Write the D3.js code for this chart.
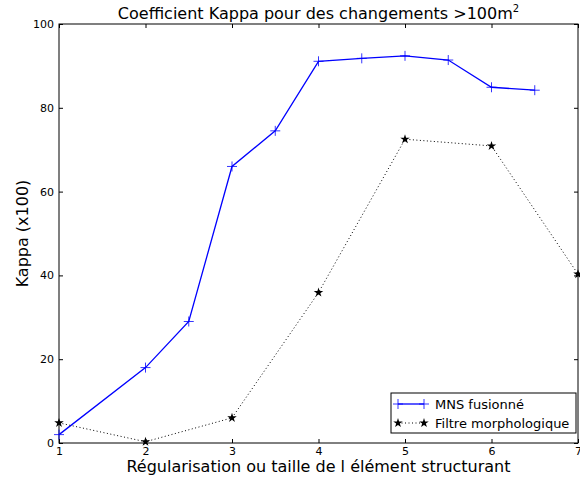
<!DOCTYPE html>
<html>
<head>
<meta charset="utf-8">
<script src="https://cdn.jsdelivr.net/npm/d3@7"></script>
<style>
  html, body { margin: 0; padding: 0; background: #fff; }
  svg { display: block; font-family: "DejaVu Sans", sans-serif; }
</style>
</head>
<body>
<svg id="chart" width="580" height="480"></svg>
<script>
// Kappa coefficient (x100) by regularisation / structuring element size
const mnsX = [1, 2, 2.5, 3, 3.5, 4, 4.5, 5, 5.5, 6, 6.5];
const mnsY = [2, 18, 29, 66, 74.5, 91.1, 91.8, 92.4, 91.4, 84.9, 84.2];
const morphoX = [1, 2, 3, 4, 5, 6, 7];
const morphoY = [4.8, 0.3, 6.0, 35.9, 72.5, 70.9, 40.3];
const xTicks = [1, 2, 3, 4, 5, 6, 7];
const yTicks = [0, 20, 40, 60, 80, 100];
const seriesNames = ["MNS fusionné", "Filtre morphologique"];

const svg = d3.select("#chart");
const m = { left: 59, right: 2, top: 24, bottom: 37 };
const W = 580, H = 480;

const x = d3.scaleLinear().domain([1, 7]).range([m.left, W - m.right]);
const y = d3.scaleLinear().domain([0, 100]).range([H - m.bottom, m.top]);

const pw = x(7) - x(1), ph = y(0) - y(100);

// frame
svg.append("rect")
  .attr("x", x(1)).attr("y", y(100))
  .attr("width", pw).attr("height", ph)
  .attr("fill", "none").attr("stroke", "#000").attr("stroke-width", 1);

// axes with inward ticks on all sides
const tickLen = 4;
const gx = svg.append("g").attr("transform", `translate(0,${y(0)})`)
  .call(d3.axisBottom(x).tickValues(xTicks).tickFormat(d3.format("d"))
    .tickSizeInner(-tickLen).tickSizeOuter(0).tickPadding(4));
const gxTop = svg.append("g").attr("transform", `translate(0,${y(100)})`)
  .call(d3.axisTop(x).tickValues(xTicks).tickFormat("")
    .tickSizeInner(-tickLen).tickSizeOuter(0));
const gy = svg.append("g").attr("transform", `translate(${x(1)},0)`)
  .call(d3.axisLeft(y).tickValues(yTicks).tickFormat(d3.format("d"))
    .tickSizeInner(-tickLen).tickSizeOuter(0).tickPadding(5));
const gyR = svg.append("g").attr("transform", `translate(${x(7)},0)`)
  .call(d3.axisRight(y).tickValues(yTicks).tickFormat("")
    .tickSizeInner(-tickLen).tickSizeOuter(0));

[gx, gxTop, gy, gyR].forEach(g => {
  g.select(".domain").remove();
  g.selectAll("line").attr("stroke", "#000");
  g.selectAll("text").attr("font-size", 11).attr("fill", "#000")
    .attr("font-family", "DejaVu Sans, sans-serif");
});

// MNS fusionné: solid blue line with + markers
const mnsData = mnsX.map((v, i) => [v, mnsY[i]]);
const line = d3.line().x(d => x(d[0])).y(d => y(d[1]));
svg.append("path").datum(mnsData)
  .attr("d", line).attr("fill", "none")
  .attr("stroke", "#0000ff").attr("stroke-width", 1.3);

const plusSize = 5;
function plusPath(cx, cy, s) {
  return `M${cx - s},${cy}H${cx + s}M${cx},${cy - s}V${cy + s}`;
}
svg.append("g").selectAll("path").data(mnsData).join("path")
  .attr("d", d => plusPath(x(d[0]), y(d[1]), plusSize))
  .attr("stroke", "#0000ff").attr("stroke-width", 0.8).attr("fill", "none");

// Filtre morphologique: dotted black line with star markers
const morphoData = morphoX.map((v, i) => [v, morphoY[i]]);
svg.append("path").datum(morphoData)
  .attr("d", line).attr("fill", "none")
  .attr("stroke", "#000").attr("stroke-width", 1)
  .attr("stroke-dasharray", "1,2.5");

const star = d3.symbol().type(d3.symbolStar).size(28);
svg.append("g").selectAll("path").data(morphoData).join("path")
  .attr("transform", d => `translate(${x(d[0])},${y(d[1])})`)
  .attr("d", star).attr("fill", "#000");

// title
const title = svg.append("text")
  .attr("x", (x(1) + x(7)) / 2).attr("y", 19)
  .attr("text-anchor", "middle").attr("font-size", 16).attr("fill", "#000");
title.append("tspan").text("Coefficient Kappa pour des changements >100m");
title.append("tspan").attr("font-size", 10).attr("dy", -7).text("2");

// axis labels
svg.append("text")
  .attr("x", (x(1) + x(7)) / 2).attr("y", 472)
  .attr("text-anchor", "middle").attr("font-size", 16).attr("fill", "#000")
  .text("Régularisation ou taille de l élément structurant");
svg.append("text")
  .attr("transform", `translate(28,${(y(0) + y(100)) / 2}) rotate(-90)`)
  .attr("text-anchor", "middle").attr("font-size", 16).attr("fill", "#000")
  .text("Kappa (x100)");

// legend
const lg = svg.append("g").attr("transform", "translate(391,393)");
lg.append("rect").attr("width", 185).attr("height", 40)
  .attr("fill", "#fff").attr("stroke", "#000").attr("stroke-width", 1);
// entry 1
lg.append("line").attr("x1", 7).attr("x2", 33).attr("y1", 11).attr("y2", 11)
  .attr("stroke", "#0000ff").attr("stroke-width", 1.3);
[7, 33].forEach(px => lg.append("path").attr("d", plusPath(px, 11, plusSize))
  .attr("stroke", "#0000ff").attr("stroke-width", 0.8));
lg.append("text").attr("x", 44).attr("y", 15.5).attr("font-size", 13)
  .attr("fill", "#000").text(seriesNames[0]);
// entry 2
lg.append("line").attr("x1", 7).attr("x2", 33).attr("y1", 30).attr("y2", 30)
  .attr("stroke", "#000").attr("stroke-width", 1).attr("stroke-dasharray", "1,2.5");
[7, 33].forEach(px => lg.append("path")
  .attr("transform", `translate(${px},30)`).attr("d", star).attr("fill", "#000"));
lg.append("text").attr("x", 44).attr("y", 34.5).attr("font-size", 13)
  .attr("fill", "#000").text(seriesNames[1]);
</script>
</body>
</html>
